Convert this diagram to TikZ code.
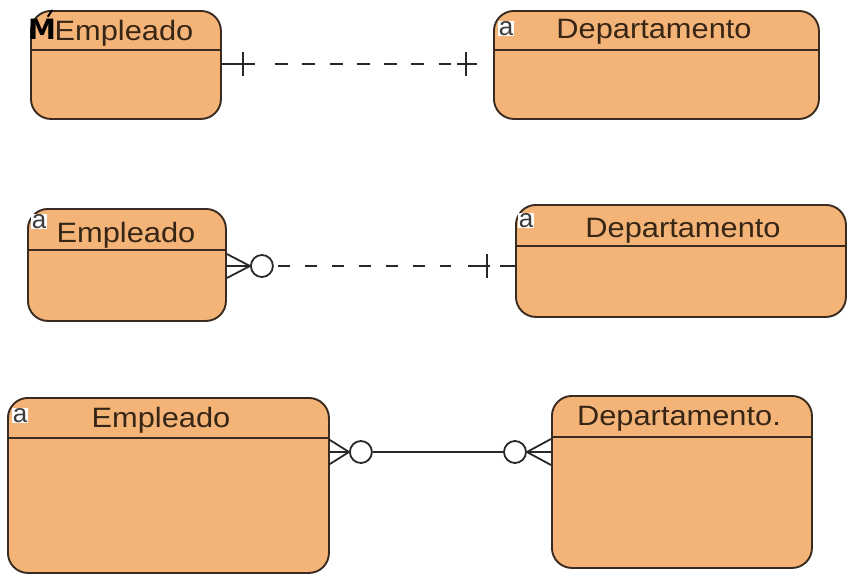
\documentclass[tikz,border=0pt]{standalone}
\usepackage{fontspec}
\setmainfont{Liberation Sans}
\newfontfamily\iconfont{DejaVu Sans}
\usetikzlibrary{calc}
\definecolor{entfill}{RGB}{244,180,120}
\definecolor{entline}{RGB}{58,43,32}
\definecolor{enttext}{RGB}{55,38,22}
\definecolor{linkcol}{RGB}{40,40,40}
\definecolor{icongray}{RGB}{60,60,60}

% wide entity titles
\newcommand{\etitle}[1]{\scalebox{1.1}[1]{#1}}

\begin{document}
\begin{tikzpicture}[x=1pt,y=-1pt,
  entity/.style={draw=entline, line width=1.9pt, fill=entfill, rounded corners=20pt,
    anchor=north west, inner sep=0pt},
  ename/.style={text=enttext, font=\fontsize{28}{30}\selectfont, inner sep=0pt, anchor=base},
  attricon/.style={text=icongray, fill=white, inner sep=0.5pt, anchor=base,
    font=\fontsize{26}{26}\selectfont},
  sep/.style={draw=entline, line width=1.7pt},
  link/.style={draw=linkcol, line width=1.8pt},
  zero/.style={draw=linkcol, line width=1.8pt, fill=white, circle, minimum size=22pt, inner sep=0pt}
]
\useasboundingbox (0,0) rectangle (847,574);

% ---------- row 1: one-to-one, dashed ----------
\node[entity, minimum width=190pt, minimum height=108pt] (e1) at (30,10) {};
\node[entity, minimum width=325pt, minimum height=108pt] (d1) at (493,10) {};
\draw[sep] ($(e1.north west)+(0,40)$) -- ($(e1.north east)+(0,40)$);
\draw[sep] ($(d1.north west)+(0,40)$) -- ($(d1.north east)+(0,40)$);
\node[ename] (e1t) at (124,40) {\etitle{Empleado}};
\node[text=black, inner sep=0pt, anchor=base, font=\iconfont\bfseries\fontsize{28}{28}\selectfont] (e1i) at (42,39) {M};
% acute mark over the M icon
\draw[black, line width=2pt, line cap=round] ($(e1i.north)+(6,-2)$) -- ++(4,-6);
\node[ename] (d1t) at (654,38) {\etitle{Departamento}};
\node[attricon] (d1i) at (506,35) {a};

\coordinate (r1a) at ($(e1.north east)+(0,54)$);
\coordinate (r1b) at ($(d1.north west)+(0,54)$);
\draw[link] (r1a) -- ++(33,0);
\draw[link, dash pattern=on 13pt off 14.3pt] ($(r1a)+(53,0)$) -- ($(r1b)+(-42,0)$);
\draw[link] ($(r1b)+(-36,0)$) -- ($(r1b)+(-16,0)$);
\draw[link] ($(r1a)+(21,-12)$) -- ++(0,24);
\draw[link] ($(r1b)+(-27,-12)$) -- ++(0,24);

% ---------- row 2: zero-or-many to one, dashed ----------
\node[entity, minimum width=198pt, minimum height=112pt] (e2) at (27,208) {};
\node[entity, minimum width=330pt, minimum height=112pt] (d2) at (515,204) {};
\draw[sep] ($(e2.north west)+(0,42)$) -- ($(e2.north east)+(0,42)$);
\draw[sep] ($(d2.north west)+(0,42)$) -- ($(d2.north east)+(0,42)$);
\node[ename] (e2t) at (126,242) {\etitle{Empleado}};
\node[ename] (d2t) at (683,237) {\etitle{Departamento}};
\node[attricon] (e2i) at (39,228) {a};
\node[attricon] (d2i) at (526,227) {a};

\coordinate (r2a) at ($(e2.north east)+(0,58)$);
\coordinate (r2b) at ($(d2.north west)+(0,62)$);
\node[zero] (z2) at ($(r2a)+(35,0)$) {};
\draw[link] ($(r2a)+(0,-12)$) -- (z2.west);
\draw[link] (r2a) -- (z2.west);
\draw[link] ($(r2a)+(0,12)$) -- (z2.west);
\draw[link, dash pattern=on 12pt off 15pt, dash phase=23pt] (z2.east) -- ($(r2b)+(-64,0)$);
\draw[link] ($(r2b)+(-47,0)$) -- ($(r2b)+(-25,0)$);
\draw[link] ($(r2b)+(-28,-12)$) -- ++(0,24);
\draw[link] ($(r2b)+(-15,0)$) -- (r2b);

% ---------- row 3: zero-or-many to zero-or-many, solid ----------
\node[entity, minimum width=321pt, minimum height=175pt] (e3) at (7,397) {};
\node[entity, minimum width=260pt, minimum height=172pt] (d3) at (551,395) {};
\draw[sep] ($(e3.north west)+(0,41)$) -- ($(e3.north east)+(0,41)$);
\draw[sep] ($(d3.north west)+(0,42)$) -- ($(d3.north east)+(0,42)$);
\node[ename] (e3t) at (161,427) {\etitle{Empleado}};
\node[ename] (d3t) at (679,425) {\etitle{Departamento.}};
\node[attricon] (e3i) at (20,422) {a};

\coordinate (r3a) at ($(e3.north east)+(0,55)$);
\coordinate (r3b) at ($(d3.north west)+(0,57)$);
\node[zero] (z3a) at ($(r3a)+(31,0)$) {};
\node[zero] (z3b) at ($(r3b)+(-36,0)$) {};
\draw[link] ($(r3a)+(0,-12)$) -- (z3a.west);
\draw[link] (r3a) -- (z3a.west);
\draw[link] ($(r3a)+(0,12)$) -- (z3a.west);
\draw[link] (z3a.east) -- (z3b.west);
\draw[link] ($(r3b)+(0,-13)$) -- (z3b.east);
\draw[link] (r3b) -- (z3b.east);
\draw[link] ($(r3b)+(0,13)$) -- (z3b.east);
\end{tikzpicture}
\end{document}
